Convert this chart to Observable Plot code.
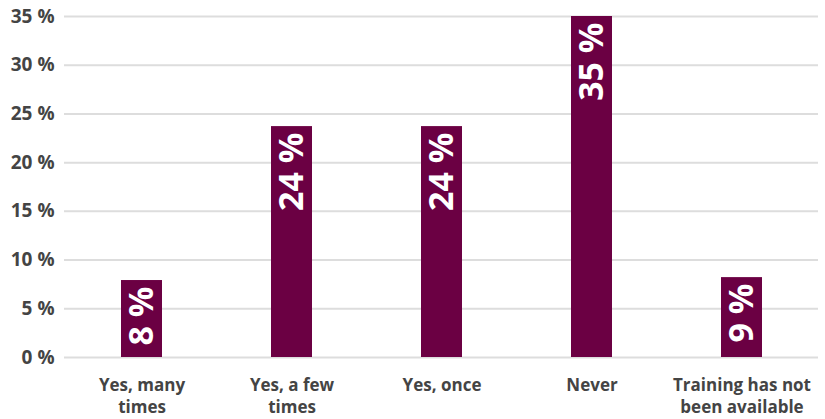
<!DOCTYPE html>
<html>
<head>
<meta charset="utf-8">
<script src="https://cdn.jsdelivr.net/npm/d3@7"></script>
<script src="https://cdn.jsdelivr.net/npm/@observablehq/plot@0.6"></script>
<style>
  html, body { margin: 0; padding: 0; background: #fff; }
  #chart { width: 825px; height: 419px; }
</style>
</head>
<body>
<div id="chart"></div>
<script>
const categories = ["Yes, many times", "Yes, a few times", "Yes, once", "Never", "Training has not been available"];
const tickLabels = ["Yes, many\ntimes", "Yes, a few\ntimes", "Yes, once", "Never", "Training has not\nbeen available"];
const values = [7.9, 23.7, 23.7, 35.0, 8.2];
const valueLabels = ["8 %", "24 %", "24 %", "35 %", "9 %"];
const yTicks = [0, 5, 10, 15, 20, 25, 30, 35];

const data = categories.map((c, i) => ({category: c, value: values[i], label: valueLabels[i]}));
const tickMap = new Map(categories.map((c, i) => [c, tickLabels[i]]));

const font = "'Open Sans', 'Noto Sans', sans-serif";

const chart = Plot.plot({
  width: 825,
  height: 419,
  marginLeft: 64,
  marginRight: 7,
  marginTop: 16,
  marginBottom: 62,
  style: {fontFamily: font, background: "#fff"},
  x: {domain: categories, paddingInner: 0.728, paddingOuter: 0.364, align: 0.5},
  y: {domain: [0, 35]},
  marks: [
    Plot.gridY(yTicks, {stroke: "#dddddd", strokeOpacity: 1, strokeWidth: 2}),
    Plot.axisY(yTicks, {
      tickSize: 0, tickPadding: 10, tickFormat: d => d + " %",
      fontSize: 19, fontWeight: 700, fill: "#444", label: null
    }),
    Plot.axisX({
      tickSize: 0, tickPadding: 18, tickFormat: d => tickMap.get(d),
      fontSize: 17, fontWeight: 700, fill: "#444", label: null, lineHeight: 1.3
    }),
    Plot.barY(data, {x: "category", y: "value", fill: "#6b0043"}),
    Plot.text(data, {
      x: "category", y: "value", text: "label", rotate: -90,
      textAnchor: "end", dy: 6, fill: "#fff", fontSize: 34, fontWeight: 700
    })
  ]
});
document.getElementById("chart").appendChild(chart);
</script>
</body>
</html>
